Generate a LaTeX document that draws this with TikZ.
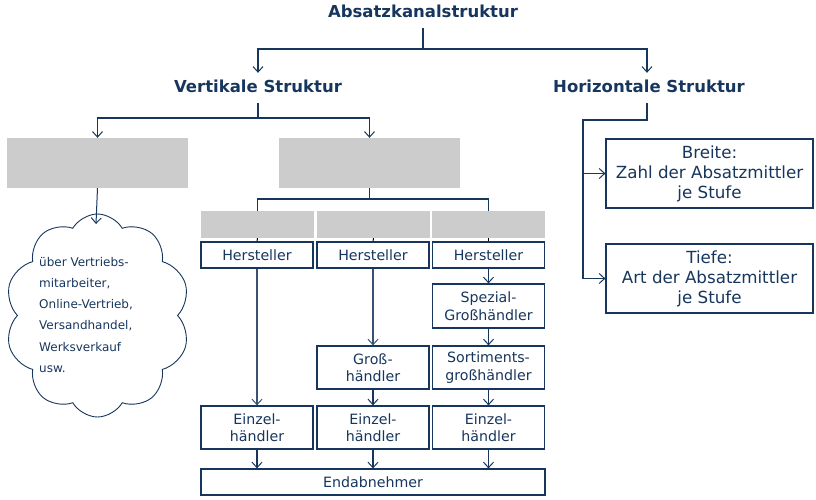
\documentclass[tikz,border=0pt]{standalone}
\usepackage{fontspec}
\setmainfont{DejaVu Sans}
\usetikzlibrary{arrows.meta,shapes.symbols}
\definecolor{navy}{RGB}{23,54,93}
\definecolor{lnavy}{RGB}{55,82,115}
\definecolor{greyfill}{RGB}{204,204,204}
\tikzset{
  heading/.style={text=navy, font=\bfseries\fontsize{16.5}{19}\selectfont, inner xsep=2pt, inner ysep=7pt, text height=12.5pt, text depth=3.5pt},
  greybox/.style={fill=greyfill, draw=none, inner sep=0pt},
  box/.style={draw=navy, line width=1.2pt, fill=white, text=navy, font=\fontsize{14.2}{17.5}\selectfont, align=center, inner sep=0pt, minimum width=112pt},
  bigbox/.style={draw=navy, line width=1.2pt, fill=white, text=navy, font=\fontsize{16.7}{20}\selectfont, align=center, inner sep=0pt, minimum width=207pt, minimum height=69pt},
  conn/.style={draw=navy, line width=1.4pt},
  arr/.style={draw=navy, line width=1.2pt, -{Straight Barb[length=5.5pt,width=10pt,line width=1pt]}},
  larr/.style={draw=lnavy, line width=1.1pt, -{Straight Barb[length=5.5pt,width=10pt,line width=1pt]}},
  thin/.style={draw=black, line width=1pt},
}
\begin{document}
\begin{tikzpicture}[x=1pt,y=-1pt]
\useasboundingbox (0,0) rectangle (816,499);
% headings
\node[heading] (T) at (423,12.5) {Absatzkanalstruktur};
\node[heading] (V) at (258,88) {Vertikale Struktur};
\node[heading] (H) at (649,88) {Horizontale Struktur};
% grey boxes
\node[greybox, minimum width=181pt, minimum height=50pt] (G1) at (97.5,163) {};
\node[greybox, minimum width=181pt, minimum height=50pt] (G2) at (369.5,163) {};
\node[greybox, minimum width=113pt, minimum height=27pt] (S1) at (257.5,224.5) {};
\node[greybox, minimum width=113pt, minimum height=27pt] (S2) at (373.5,224.5) {};
\node[greybox, minimum width=113pt, minimum height=27pt] (S3) at (488.5,224.5) {};
% cloud
\node[cloud, cloud puffs=10, cloud puff arc=120, aspect=0.9, draw=navy, line width=0.9pt, minimum width=185pt, minimum height=203pt] (C) at (97.5,315.5) {};
\node[anchor=north west, inner sep=0pt, align=left, text=navy, font=\fontsize{12}{21.2}\selectfont] (CT) at (39,257) {über Vertriebs-\\mitarbeiter,\\Online-Vertrieb,\\Versandhandel,\\Werksverkauf\\usw.};
% column boxes
\node[box, minimum height=26pt] (H1) at (257,255) {Hersteller};
\node[box, minimum height=26pt] (H2) at (373,255) {Hersteller};
\node[box, minimum height=26pt] (H3) at (488.5,255) {Hersteller};
\node[box, minimum height=44pt] (SP) at (488.5,306) {Spezial-\\Großhändler};
\node[box, minimum height=43pt] (GH) at (373,367.5) {Groß-\\händler};
\node[box, minimum height=43pt] (SO) at (488.5,367.5) {Sortiments-\\großhändler};
\node[box, minimum height=43pt] (E1) at (257,427.5) {Einzel-\\händler};
\node[box, minimum height=43pt] (E2) at (373,427.5) {Einzel-\\händler};
\node[box, minimum height=43pt] (E3) at (488.5,427.5) {Einzel-\\händler};
\node[box, minimum width=344pt, minimum height=26pt] (END) at (373,482) {Endabnehmer};
% right boxes
\node[bigbox] (BR) at (709.5,173.5) {Breite:\\Zahl der Absatzmittler\\je Stufe};
\node[bigbox] (TI) at (709.5,278.5) {Tiefe:\\Art der Absatzmittler\\je Stufe};
% junction coordinates
\coordinate (tj) at (423,49);
\coordinate (vj) at (258,118);
\coordinate (hj) at (583,120);
\coordinate (hb) at (583,173.5);
\coordinate (ht) at (583,278.5);
\coordinate (gj) at (369.5,199);
\coordinate (cl) at (96,224);
% connectors top
\draw[conn] (T.south) -- (tj);
\draw[arr] (tj) -| (V.north);
\draw[arr] (tj) -| ([xshift=-2pt]H.north);
\draw[conn] (V.south) -- (vj);
\draw[arr] (vj) -| (G1.north);
\draw[arr] (vj) -| (G2.north);
% right
\draw[conn] ([xshift=-2pt]H.south) |- (hj) -- (ht);
\draw[arr] (hb) -- (BR.west);
\draw[arr] (ht) -- (TI.west);
% cloud arrow
\draw[arr, line width=1pt] (G1.south) -- (cl);
% middle tree
\draw[conn, line width=1.2pt] (G2.south) -- (gj);
\draw[conn, line width=1.2pt] (gj) -| (S1.north);
\draw[conn, line width=1.2pt] (gj) -| (S3.north);
\draw[thin] (S1.south) -- (H1.north);
\draw[thin] (S2.south) -- (H2.north);
\draw[thin] (S3.south) -- (H3.north);
% columns
\draw[larr] (H1.south) -- (E1.north);
\draw[larr] (H2.south) -- (GH.north);
\draw[arr] (H3.south) -- (SP.north);
\draw[arr] (SP.south) -- (SO.north);
\draw[arr] (GH.south) -- (E2.north);
\draw[arr] (SO.south) -- (E3.north);
\draw[arr] (E1.south) -- (E1.south |- END.north);
\draw[arr] (E2.south) -- (E2.south |- END.north);
\draw[arr] (E3.south) -- (E3.south |- END.north);
\end{tikzpicture}
\end{document}
